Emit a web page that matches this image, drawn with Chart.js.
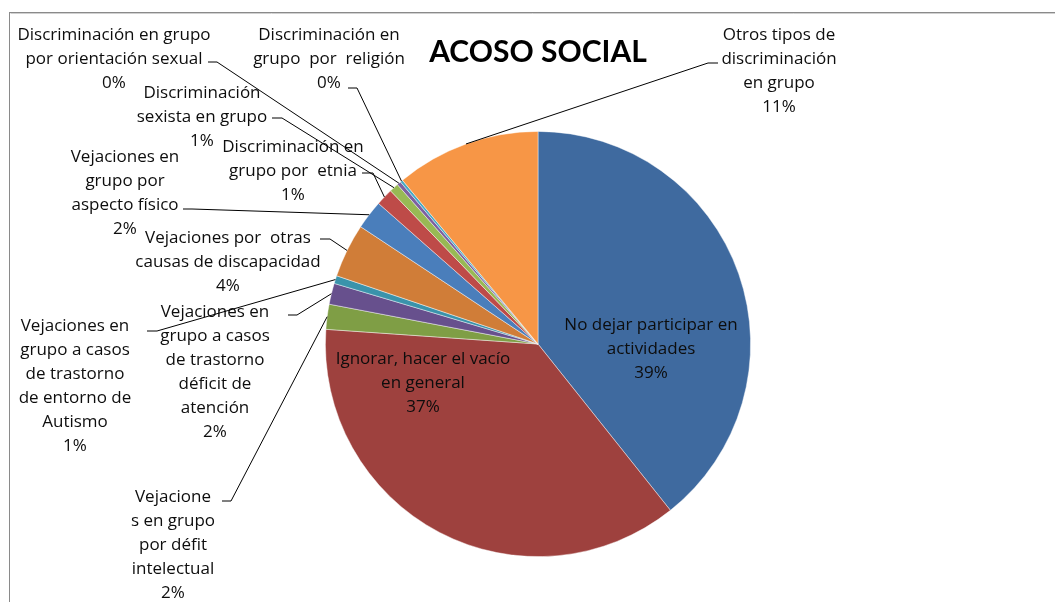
<!DOCTYPE html>
<html lang="es">
<head>
<meta charset="utf-8">
<title>Acoso social</title>
<script src="https://cdn.jsdelivr.net/npm/chart.js@4/dist/chart.umd.min.js"></script>
<style>
  body { margin: 0; background: #fff; }
  #chart { display: block; }
</style>
</head>
<body>
<canvas id="chart" width="1055" height="602"></canvas>
<script>
// slices, clockwise from 12 o'clock
const categories = [
  'No dejar participar en actividades',
  'Ignorar, hacer el vacío en general',
  'Vejaciones en grupo por défit intelectual',
  'Vejaciones en grupo a casos de trastorno déficit de atención',
  'Vejaciones en grupo a casos de trastorno de entorno de Autismo',
  'Vejaciones por otras causas de discapacidad',
  'Vejaciones en grupo por aspecto físico',
  'Discriminación en grupo por etnia',
  'Discriminación sexista en grupo',
  'Discriminación en grupo por orientación sexual',
  'Discriminación en grupo por religión',
  'Otros tipos de discriminación en grupo'
];

// share of answers, %
const shares = [39.3, 36.8, 1.9, 1.6, 0.6, 4.1, 2.2, 1.3, 0.7, 0.3, 0.2, 11.0];

// label text as it wraps on the chart
const wrapped = [
  ['No dejar participar en', 'actividades'],
  ['Ignorar, hacer el vacío', 'en general'],
  ['Vejacione', 's en grupo', 'por défit', 'intelectual'],
  ['Vejaciones en', 'grupo a casos', 'de trastorno', 'déficit de', 'atención'],
  ['Vejaciones en', 'grupo a casos', 'de trastorno', 'de entorno de', 'Autismo'],
  ['Vejaciones por  otras', 'causas de discapacidad'],
  ['Vejaciones en', 'grupo por', 'aspecto físico'],
  ['Discriminación en', 'grupo por  etnia'],
  ['Discriminación', 'sexista en grupo'],
  ['Discriminación en grupo', 'por orientación sexual'],
  ['Discriminación en', 'grupo  por  religión'],
  ['Otros tipos de', 'discriminación', 'en grupo']
];

const sliceColors = [
  '#3f6a9f', '#9e413e', '#7f9e45', '#67508d', '#3a93ab', '#d07d38',
  '#4a7ebb', '#be4b48', '#98b954', '#7d60a0', '#46aac5', '#f79646'
];

// where each label block sits: centre x, first baseline, leader stub [x1, y, x2]
const labelSpots = [
  { x: 651, base: 330 },
  { x: 423, base: 364 },
  { x: 173, base: 502, lead: [222, 501, 231] },
  { x: 215, base: 317, lead: [288, 315, 297] },
  { x: 75,  base: 331, lead: [147, 331, 157] },
  { x: 228, base: 243, lead: [320, 239, 330] },
  { x: 125, base: 162, lead: [183, 209, 192] },
  { x: 293, base: 152, lead: [362, 173, 373] },
  { x: 202, base: 98,  lead: [272, 118, 282] },
  { x: 114, base: 40,  lead: [208, 62, 217] },
  { x: 329, base: 40,  lead: [348, 88, 357] },
  { x: 779, base: 40,  lead: [718, 63, 708] }
];

const labelFont = '17px "Open Sans", Lato, sans-serif';
const titleFont = 'bold 30px Lato, "Open Sans", sans-serif';

const frameAndTitle = {
  id: 'frameAndTitle',
  beforeDraw(chart) {
    const ctx = chart.ctx;
    ctx.save();
    ctx.fillStyle = '#fff';
    ctx.fillRect(0, 0, chart.width, chart.height);
    ctx.strokeStyle = '#8a8a8a';
    ctx.lineWidth = 1;
    ctx.strokeRect(9.5, 12.5, chart.width + 20, chart.height + 20);
    ctx.strokeStyle = '#d0d0d0';
    ctx.beginPath();
    ctx.moveTo(10.5, 13.5);
    ctx.lineTo(chart.width, 13.5);
    ctx.stroke();
    ctx.restore();
  },
  afterDraw(chart) {
    const ctx = chart.ctx;
    ctx.save();
    ctx.fillStyle = '#000';
    ctx.font = titleFont;
    ctx.textAlign = 'center';
    ctx.textBaseline = 'alphabetic';
    ctx.fillText('ACOSO SOCIAL', 538, 62);
    ctx.restore();
  }
};

const callouts = {
  id: 'callouts',
  afterDatasetsDraw(chart) {
    const ctx = chart.ctx;
    const meta = chart.getDatasetMeta(0);
    const total = shares.reduce((a, b) => a + b, 0);
    ctx.save();
    ctx.strokeStyle = '#000';
    ctx.lineWidth = 1;
    ctx.fillStyle = '#0d0d0d';
    ctx.font = labelFont;
    ctx.textAlign = 'center';
    ctx.textBaseline = 'alphabetic';
    meta.data.forEach((arc, i) => {
      const spot = labelSpots[i];
      const p = arc.getProps(['x', 'y', 'startAngle', 'endAngle', 'outerRadius'], true);
      if (spot.lead) {
        const mid = (p.startAngle + p.endAngle) / 2;
        ctx.beginPath();
        ctx.moveTo(spot.lead[0], spot.lead[1]);
        ctx.lineTo(spot.lead[2], spot.lead[1]);
        ctx.lineTo(p.x + Math.cos(mid) * p.outerRadius, p.y + Math.sin(mid) * p.outerRadius);
        ctx.stroke();
      }
      const pct = Math.round(shares[i] / total * 100) + '%';
      wrapped[i].concat(pct).forEach((t, k) => {
        ctx.fillText(t, spot.x, spot.base + k * 24);
      });
    });
    ctx.restore();
  }
};

function draw() {
  new Chart(document.getElementById('chart'), {
    type: 'pie',
    data: {
      labels: categories,
      datasets: [{
        data: shares,
        backgroundColor: sliceColors,
        borderColor: 'rgba(255,255,255,0.55)',
        borderWidth: 0.8
      }]
    },
    options: {
      responsive: false,
      animation: false,
      layout: { padding: { top: 131, bottom: 45, left: 111, right: 90 } },
      plugins: {
        legend: { display: false },
        tooltip: { enabled: false }
      }
    },
    plugins: [frameAndTitle, callouts]
  });
}

Promise.all([
  document.fonts.load(labelFont),
  document.fonts.load(titleFont)
]).then(draw, draw);
</script>
</body>
</html>
